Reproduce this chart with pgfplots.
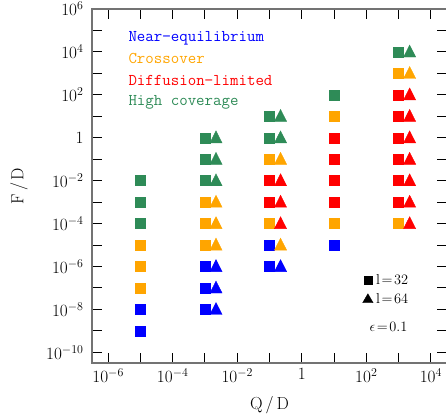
\documentclass[border=0pt]{standalone}
\usepackage{pgfplots}
\pgfplotsset{compat=1.18}
\definecolor{cblue}{RGB}{0,0,255}
\definecolor{corange}{RGB}{255,165,0}
\definecolor{cred}{RGB}{255,0,0}
\definecolor{cgreen}{RGB}{46,139,87}
\begin{document}
\begin{tikzpicture}
\begin{loglogaxis}[
 at={(0bp,0bp)}, anchor=south west,
 scale only axis, width=355bp, height=354bp,
 xmin=3.1623e-7, xmax=3.1623e4,
 ymin=3.1623e-11, ymax=1e6,
 xtick={1e-6,1e-5,1e-4,1e-3,1e-2,1e-1,1,1e1,1e2,1e3,1e4},
 xticklabels={{$10^{-6}$},{},{$10^{-4}$},{},{$10^{-2}$},{},{$1$},{},{$10^{2}$},{},{$10^{4}$}},
 ytick={1e-10,1e-9,1e-8,1e-7,1e-6,1e-5,1e-4,1e-3,1e-2,1e-1,1,1e1,1e2,1e3,1e4,1e5,1e6},
 yticklabels={{$10^{-10}$},{},{$10^{-8}$},{},{$10^{-6}$},{},{$10^{-4}$},{},{$10^{-2}$},{},{$1$},{},{$10^{2}$},{},{$10^{4}$},{},{$10^{6}$}},
 xminorticks=false, yminorticks=false,
 tick align=inside, major tick length=10bp,
 tick style={black, line width=1bp},
 axis line style={black!55, line width=1.3bp},
 tick label style={font=\fontsize{17.5}{20}\selectfont},
 yticklabel style={xshift=-5bp},
 xticklabel style={yshift=-2bp},
 xlabel={Q\,/\,D}, ylabel={F\,/\,D},
 label style={font=\fontsize{17.5}{20}\selectfont},
 xlabel style={at={(axis description cs:0.5,0)}, anchor=center, yshift=-42bp},
 ylabel style={at={(axis description cs:0,0.5)}, anchor=center, yshift=73bp},
 clip=false,
 legend style={draw=none, fill=none, at={(rel axis cs:0.762,0.256)}, anchor=north west,
   font=\fontsize{15}{18}\selectfont, inner sep=0pt, row sep=4bp, column sep=1bp},
 legend cell align=left,
 legend image code/.code={\draw[#1] plot coordinates {(0bp,0bp)};},
 sq/.style={only marks, mark=square*, mark size=5bp, mark options={draw=none}},
 tri/.style={only marks, mark=triangle*, mark size=7bp, mark options={draw=none, yscale=1.14, yshift=-1bp}},
]
% legend entries
\addlegendimage{black, only marks, mark=square*, mark size=4bp, mark options={draw=none}}
\addlegendentry{$\mathrm{l}\mkern2mu{=}\mkern2mu32$}
\addlegendimage{black, only marks, mark=triangle*, mark size=6bp, mark options={draw=none}}
\addlegendentry{$\mathrm{l}\mkern2mu{=}\mkern2mu64$}
% squares
\addplot[sq, color=cblue, forget plot] coordinates {
 (1e-5,1e-8) (1e-5,1e-9)
 (1e-3,1e-6) (1e-3,1e-7) (1e-3,1e-8)
 (1e-1,1e-5) (1e-1,1e-6)
 (1e1,1e-5)
};
\addplot[sq, color=corange, forget plot] coordinates {
 (1e-5,1e-5) (1e-5,1e-6) (1e-5,1e-7)
 (1e-3,1e-3) (1e-3,1e-4) (1e-3,1e-5)
 (1e-1,1e-1) (1e-1,1e-4)
 (1e1,1e1) (1e1,1e-4)
 (1e3,1e3) (1e3,1e-4)
};
\addplot[sq, color=cred, forget plot] coordinates {
 (1e-1,1e-2) (1e-1,1e-3)
 (1e1,1) (1e1,1e-1) (1e1,1e-2) (1e1,1e-3)
 (1e3,1e2) (1e3,1e1) (1e3,1) (1e3,1e-1) (1e3,1e-2) (1e3,1e-3)
};
\addplot[sq, color=cgreen, forget plot] coordinates {
 (1e-5,1e-2) (1e-5,1e-3) (1e-5,1e-4)
 (1e-3,1) (1e-3,1e-1) (1e-3,1e-2)
 (1e-1,1e1) (1e-1,1)
 (1e1,1e2)
 (1e3,1e4)
};
% triangles
\addplot[tri, color=cblue, forget plot] coordinates {
 (2.2e-3,1e-6) (2.2e-3,1e-7) (2.2e-3,1e-8)
 (2.2e-1,1e-6)
};
\addplot[tri, color=corange, forget plot] coordinates {
 (2.2e-3,1e-3) (2.2e-3,1e-4) (2.2e-3,1e-5)
 (2.2e-1,1e-1) (2.2e-1,1e-5)
 (2.2e3,1e3)
};
\addplot[tri, color=cred, forget plot] coordinates {
 (2.2e-1,1e-2) (2.2e-1,1e-3) (2.2e-1,1e-4)
 (2.2e3,1e2) (2.2e3,1e1) (2.2e3,1) (2.2e3,1e-1) (2.2e3,1e-2) (2.2e3,1e-3) (2.2e3,1e-4)
};
\addplot[tri, color=cgreen, forget plot] coordinates {
 (2.2e-3,1) (2.2e-3,1e-1) (2.2e-3,1e-2)
 (2.2e-1,1e1) (2.2e-1,1)
 (2.2e3,1e4)
};
% text legend
\node[anchor=base west, text=cblue, font=\fontsize{16.5}{19}\selectfont\ttfamily] at (rel axis cs:0.093,0.907) {Near−equilibrium};
\node[anchor=base west, text=corange, font=\fontsize{16.5}{19}\selectfont\ttfamily] at (rel axis cs:0.093,0.847) {Crossover};
\node[anchor=base west, text=cred, font=\fontsize{16.5}{19}\selectfont\ttfamily] at (rel axis cs:0.093,0.785) {Diffusion−limited};
\node[anchor=base west, text=cgreen, font=\fontsize{16.5}{19}\selectfont\ttfamily] at (rel axis cs:0.093,0.726) {High coverage};
\node[anchor=base west, font=\fontsize{15}{18}\selectfont] at (rel axis cs:0.772,0.088) {$\epsilon\mkern2mu{=}\mkern2mu0.1$};
\end{loglogaxis}
\pgfresetboundingbox
\path[use as bounding box] (-92bp,-54bp) rectangle (354bp,363bp);
\end{tikzpicture}
\end{document}
